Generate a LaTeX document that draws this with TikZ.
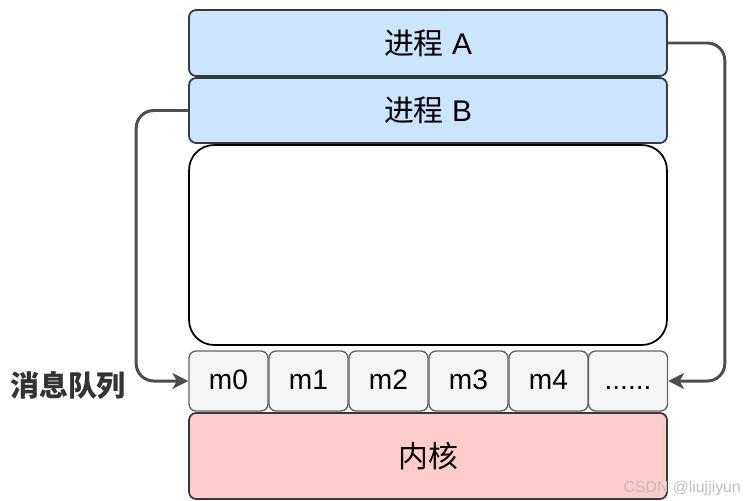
\documentclass[tikz,border=0pt]{standalone}
\usepackage{fontspec}
\setmainfont{Liberation Sans}
\newfontfamily\cjk{Noto Sans CJK SC}
\usetikzlibrary{arrows.meta}
\definecolor{procfill}{HTML}{CCE5FF}
\definecolor{kernfill}{HTML}{FFCCCC}
\definecolor{cellfill}{HTML}{F5F5F5}
\definecolor{edgedark}{HTML}{36393D}
\definecolor{linkgray}{HTML}{4D4D4D}
\tikzset{
  procbox/.style={draw=edgedark, fill=procfill, line width=1pt, rounded corners=4pt,
    minimum width=9.56cm, font=\fontsize{17}{19}\selectfont},
  cellbox/.style={draw=black!60, fill=cellfill, line width=0.8pt, rounded corners=4pt,
    minimum width=1.58cm, minimum height=1.2cm, text height=1em, text depth=0.08em,
    font=\fontsize{16}{18}\selectfont},
  link/.style={->, draw=linkgray, line width=1.7pt, rounded corners=10pt}
}
\begin{document}
\begin{tikzpicture}[x=0.02cm, y=-0.02cm, >={Stealth[length=9pt, width=9pt, inset=2.5pt]}]
  \useasboundingbox (0,0) rectangle (749,500);

  \node[procbox, minimum height=1.32cm] (procA) at (428,43) {{\cjk 进程} A};
  \node[procbox, minimum height=1.3cm] (procB) at (428,110.5) {{\cjk 进程} B};

  \node[draw, fill=white, line width=1pt, rounded corners=0.5cm,
    minimum width=9.56cm, minimum height=4cm] (shm) at (428,245) {};

  % the message queue
  \foreach \i/\x/\t in {0/228.5/m0, 1/308.5/m1, 2/388.5/m2, 3/468.5/m3, 4/548.5/m4, 5/628/{......}}
    \node[cellbox] (m\i) at (\x,381) {\t};

  \node[procbox, fill=kernfill, minimum height=1.72cm, font=\cjk\fontsize{17}{19}\selectfont] (kern) at (428,456) {内核};

  \node[font=\cjk\fontsize{16.5}{18}\selectfont\bfseries, text=black!80] (qlabel) at (68,385) {消息队列};

  \draw[link] (procB.west) -- ++(-52,0) |- (m0.west);
  \draw[link] (procA.east) -- ++(57,0) |- (m5.east);

  \node[anchor=east, font=\fontsize{9}{10}\selectfont, text=black!25] (mark) at (747,488) {CSDN @liujjiyun};
\end{tikzpicture}
\end{document}
